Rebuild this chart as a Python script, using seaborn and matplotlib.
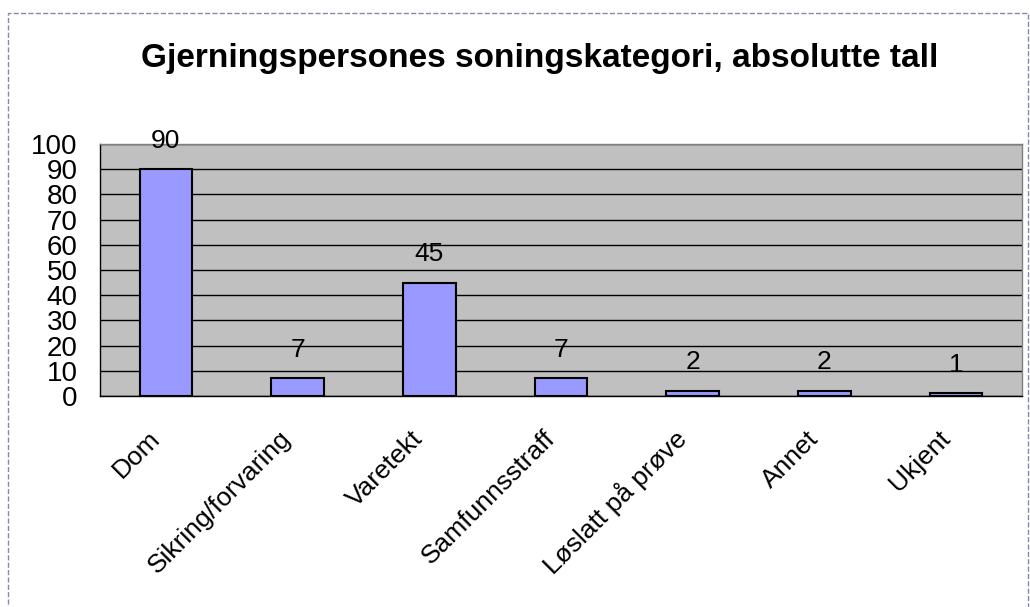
import matplotlib
matplotlib.use('Agg')
import matplotlib.pyplot as plt
import pandas as pd
import numpy as np
import seaborn as sns
from matplotlib.patches import Rectangle

categories = ['Dom', 'Sikring/forvaring', 'Varetekt', 'Samfunnsstraff',
              'Løslatt på prøve', 'Annet', 'Ukjent']
antall = [90, 7, 45, 7, 2, 2, 1]
y_ticks = list(range(0, 101, 10))
title = 'Gjerningspersones soningskategori, absolutte tall'

df = pd.DataFrame({'kategori': categories, 'antall': antall})

sns.set_style('white')
plt.rcParams['font.family'] = ['Liberation Sans', 'DejaVu Sans']
plt.rcParams['text.color'] = 'black'
plt.rcParams['xtick.labelcolor'] = 'black'
plt.rcParams['ytick.labelcolor'] = 'black'

fig = plt.figure(figsize=(10.3, 6.07), dpi=100)
ax = fig.add_axes([0.0971, 0.3476, 0.8951, 0.4152])
ax.set_facecolor('#C0C0C0')

sns.barplot(data=df, x='kategori', y='antall', color='#9999FF', saturation=1,
            edgecolor='black', linewidth=1.5, width=0.4, ax=ax, zorder=3)
for c in ax.containers:
    ax.bar_label(c, padding=12, fontsize=19, color='black')

ax.set_xlim(-0.5, len(categories) - 0.5)
ax.set_ylim(0, 100)
ax.set_yticks(y_ticks)
ax.yaxis.grid(True, color='black', linewidth=1)
ax.set_axisbelow(True)
ax.set_xlabel('')
ax.set_ylabel('')

# tick marks on category boundaries, labels nudged a bit left of the centres
ax.set_xticks(np.arange(len(categories)) - 0.075)
ax.set_xticks(np.arange(len(categories) + 1) - 0.5, minor=True)
ax.set_xticklabels(categories, rotation=45, ha='right', va='center',
                   rotation_mode='anchor', fontsize=19)
ax.tick_params(axis='x', which='major', length=0, pad=28)
ax.tick_params(axis='x', which='minor', length=5, width=1, color='black', direction='out')
ax.tick_params(axis='y', length=6, width=1, color='black', direction='out', pad=10, labelsize=20)

for s in ['top', 'right']:
    ax.spines[s].set_color('#808080')
for s in ['left', 'bottom']:
    ax.spines[s].set_color('black')
for s in ax.spines.values():
    s.set_linewidth(1)

fig.text(0.524, 0.904, title, ha='center', va='center', fontsize=24,
         fontweight='bold', color='black')

fig.patches.append(Rectangle((8 / 1030, -0.01), 1020 / 1030, 1 - 13 / 607 + 0.01,
                             transform=fig.transFigure, fill=False, linestyle='--',
                             edgecolor='#8888AA', linewidth=1))

fig.savefig('out.png', dpi=100)
